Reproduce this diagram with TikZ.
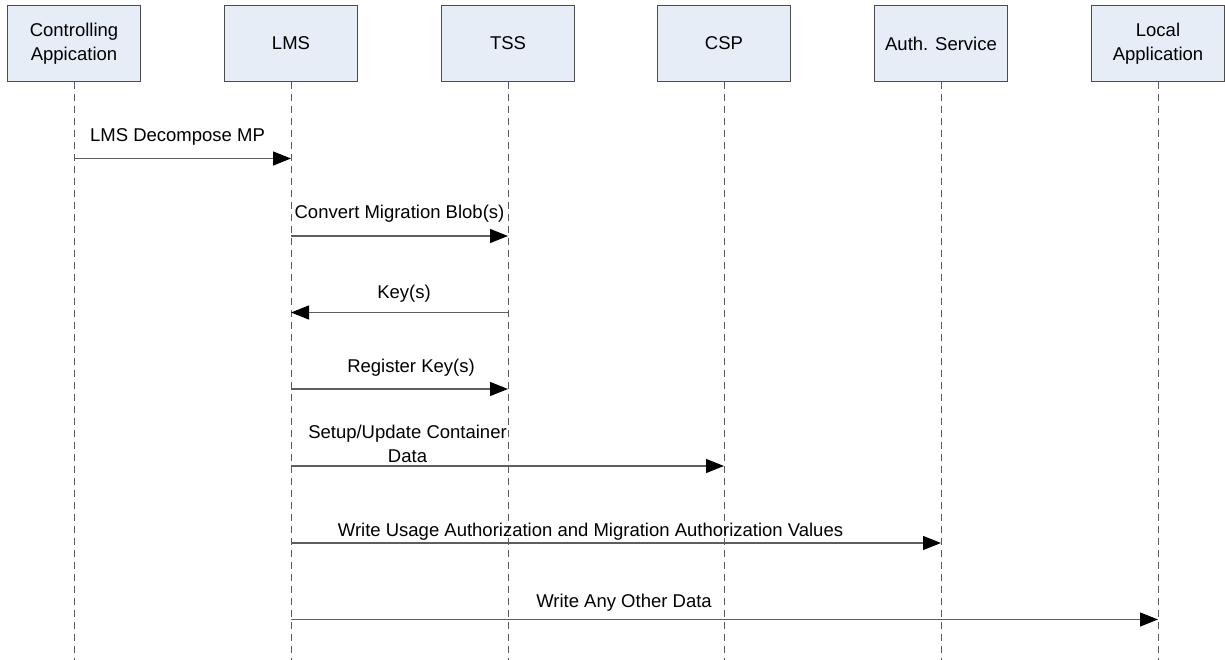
\documentclass[tikz,border=0pt]{standalone}
\usepackage{fontspec}
\setmainfont{Liberation Sans}
\usetikzlibrary{arrows.meta}
\definecolor{boxfill}{HTML}{E7EDF7}
\definecolor{boxline}{HTML}{4C4C4C}
\definecolor{lifegray}{HTML}{5A5A5A}
\definecolor{msggray}{HTML}{5E5E5E}
\begin{document}
\begin{tikzpicture}[x=1pt,y=-1pt,
  font=\fontsize{18.5}{24.5}\selectfont,
  actor/.style={draw=boxline, fill=boxfill, line width=1.1pt, minimum width=133pt,
    minimum height=76pt, align=center, inner sep=0pt},
  lifeline/.style={draw=lifegray, line width=0.9pt, dash pattern=on 7pt off 5pt},
  msg/.style={draw=msggray, line width=1.2pt,
    -{Triangle[length=18pt,width=14pt,color=black]}},
  msglabel/.style={inner sep=0pt, align=center}]
\useasboundingbox (0,0) rectangle (1225,660);

% participants
\node[actor] (ca)   at (74,43.5)   {Controlling\\Appication};
\node[actor] (lms)  at (291,43.5)  {LMS};
\node[actor] (tss)  at (508,43.5)  {TSS};
\node[actor] (csp)  at (724,43.5)  {CSP};
\node[actor] (auth) at (941,43.5)  {Auth. Service};
\node[actor] (loc)  at (1158,43.5) {Local\\Application};

% lifelines
\foreach \p in {ca,lms,tss,csp,auth,loc}{
  \coordinate (\p-end) at (\p.south |- 0,660);
  \draw[lifeline] (\p.south) -- (\p-end);
}

% message end points on the lifelines
\coordinate (m1a) at (ca.south  |- 0,158.5);
\coordinate (m1b) at (lms.south |- 0,158.5);
\coordinate (m2a) at (lms.south |- 0,236);
\coordinate (m2b) at (tss.south |- 0,236);
\coordinate (m3a) at (tss.south |- 0,312.5);
\coordinate (m3b) at (lms.south |- 0,312.5);
\coordinate (m4a) at (lms.south |- 0,389);
\coordinate (m4b) at (tss.south |- 0,389);
\coordinate (m5a) at (lms.south |- 0,466);
\coordinate (m5b) at (csp.south |- 0,466);
\coordinate (m6a) at (lms.south |- 0,543);
\coordinate (m6b) at (auth.south |- 0,543);
\coordinate (m7a) at (lms.south |- 0,619.5);
\coordinate (m7b) at (loc.south |- 0,619.5);

% messages
\draw[msg] (m1a) -- (m1b);
\draw[msg] (m2a) -- (m2b);
\draw[msg] (m3a) -- (m3b);
\draw[msg] (m4a) -- (m4b);
\draw[msg] (m5a) -- (m5b);
\draw[msg] (m6a) -- (m6b);
\draw[msg] (m7a) -- (m7b);

% message labels
\node[msglabel] (l1) at (177.5,137) {LMS Decompose MP};
\node[msglabel] (l2) at (399.5,214) {Convert Migration Blob(s)};
\node[msglabel] (l3) at (404,294)   {Key(s)};
\node[msglabel] (l4) at (411,368)   {Register Key(s)};
\node[msglabel] (l5) at (407.5,444) {Setup/Update Container\\Data};
\node[msglabel] (l6) at (590.5,532) {Write Usage Authorization and Migration Authorization Values};
\node[msglabel] (l7) at (624,603)   {Write Any Other Data};
\end{tikzpicture}
\end{document}
